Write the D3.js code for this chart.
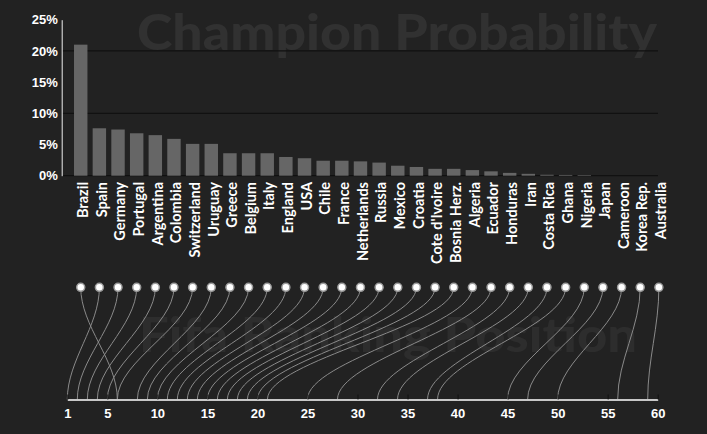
<!DOCTYPE html>
<meta charset="utf-8">
<script src="https://d3js.org/d3.v7.min.js"></script>
<style>
  body { margin: 0; background: #222; font-family: Lato, "Open Sans", sans-serif; }
  .axis text { fill: #fff; font-weight: bold; font-size: 13px; }
</style>
<body>
<div id="my_dataviz"></div>
<script>

// teams, sorted by chance of winning the cup
var teams = ["Brazil", "Spain", "Germany", "Portugal", "Argentina", "Colombia", "Switzerland",
  "Uruguay", "Greece", "Belgium", "Italy", "England", "USA", "Chile", "France", "Netherlands",
  "Russia", "Mexico", "Croatia", "Cote d'Ivoire", "Bosnia Herz.", "Algeria", "Ecuador",
  "Honduras", "Iran", "Costa Rica", "Ghana", "Nigeria", "Japan", "Cameroon", "Korea Rep.", "Australia"];

// champion probability, in %
var probability = [21.0, 7.6, 7.4, 6.8, 6.5, 5.9, 5.1, 5.1, 3.6, 3.6, 3.6, 3.0, 2.8, 2.4, 2.4, 2.3,
  2.1, 1.6, 1.4, 1.1, 1.1, 0.9, 0.7, 0.45, 0.3, 0.15, 0.12, 0.1, 0, 0, 0, 0];

// fifa ranking position
var fifaRank = [6, 1, 2, 3, 4, 5, 6, 8, 9, 10, 11, 12, 13, 14, 15, 16,
  17, 18, 19, 20, 21, 25, 28, 32, 34, 37, 38, 45, 47, 50, 56, 59];

var yTicks = [0, 5, 10, 15, 20, 25];
var gridTicks = [0, 10, 20];
var rankTicks = [1, 5, 10, 15, 20, 25, 30, 35, 40, 45, 50, 55, 60];

var width = 707, height = 434;

var svg = d3.select("#my_dataviz")
  .append("svg")
    .attr("width", width)
    .attr("height", height);

var data = teams.map(function(t, i) {
  return {team: t, p: probability[i], rank: fifaRank[i]};
});

// background words
svg.append("text")
    .attr("x", 657)
    .attr("y", 50)
    .attr("text-anchor", "end")
    .attr("textLength", 520)
    .attr("lengthAdjust", "spacingAndGlyphs")
    .style("font-size", "50px")
    .style("font-weight", "900")
    .style("fill", "#313131")
    .text("Champion Probability");

svg.append("text")
    .attr("x", 139)
    .attr("y", 352)
    .attr("textLength", 498)
    .attr("lengthAdjust", "spacingAndGlyphs")
    .style("font-size", "47px")
    .style("font-weight", "900")
    .style("fill", "#2d2d2d")
    .text("Fifa Ranking Position");

// bar chart
var x = d3.scaleBand()
    .domain(teams)
    .range([71.4, 71.4 + 18.65 * teams.length])
    .paddingInner(0.28)
    .paddingOuter(0.14);

var y = d3.scaleLinear()
    .domain([0, 25])
    .range([175.7, 19.7]);

svg.selectAll("grid")
  .data(gridTicks)
  .enter()
  .append("line")
    .attr("x1", 62)
    .attr("x2", 658)
    .attr("y1", function(d) { return y(d); })
    .attr("y2", function(d) { return y(d); })
    .attr("stroke", "#111")
    .attr("stroke-width", 1.2);

svg.selectAll("mybar")
  .data(data)
  .enter()
  .append("rect")
    .attr("x", function(d) { return x(d.team); })
    .attr("y", function(d) { return y(d.p); })
    .attr("width", x.bandwidth())
    .attr("height", function(d) { return y(0) - y(d.p); })
    .attr("fill", "#666");

var yAxis = svg.append("g")
    .attr("class", "axis")
    .attr("transform", "translate(61.7,0)")
    .call(d3.axisLeft(y).tickValues(yTicks).tickSize(0).tickPadding(4)
      .tickFormat(function(d) { return d + "%"; }));
yAxis.select(".domain").attr("stroke", "#eee");

svg.selectAll("mylabel")
  .data(data)
  .enter()
  .append("text")
    .attr("transform", function(d) {
      return "translate(" + (x(d.team) + x.bandwidth() / 2) + ",182)rotate(-90)";
    })
    .attr("dy", "0.5em")
    .attr("text-anchor", "end")
    .style("font-size", "14.5px")
    .style("font-weight", "bold")
    .style("fill", "#fff")
    .text(function(d) { return d.team; });

// ranking links
var r = d3.scaleLinear()
    .domain([1, 60])
    .range([67.3, 657.7]);

var topY = 287.3, axisY = 399.5;
var bend = 0.35 * (axisY - topY);

svg.selectAll("mylink")
  .data(data)
  .enter()
  .append("path")
    .attr("d", function(d) {
      var x1 = x(d.team) + x.bandwidth() / 2, x2 = r(d.rank);
      return "M" + x1 + "," + topY +
        "C" + x1 + "," + (topY + bend) + " " + x2 + "," + (axisY - bend) + " " + x2 + "," + axisY;
    })
    .attr("fill", "none")
    .attr("stroke", "#8a8a8a")
    .attr("stroke-width", 1);

var xAxis = svg.append("g")
    .attr("class", "axis")
    .attr("transform", "translate(0," + axisY + ")")
    .call(d3.axisBottom(r).tickValues(rankTicks).tickSize(-5).tickSizeOuter(0).tickPadding(9));
xAxis.select(".domain").attr("stroke", "#c8c8c8").attr("stroke-width", 2);
xAxis.selectAll(".tick line").attr("stroke", "#111");

svg.selectAll("mycircle")
  .data(data)
  .enter()
  .append("circle")
    .attr("cx", function(d) { return x(d.team) + x.bandwidth() / 2; })
    .attr("cy", topY)
    .attr("r", 4)
    .style("fill", "#fff")
    .attr("stroke", "#999")
    .attr("stroke-width", 1.5);

</script>
</body>
